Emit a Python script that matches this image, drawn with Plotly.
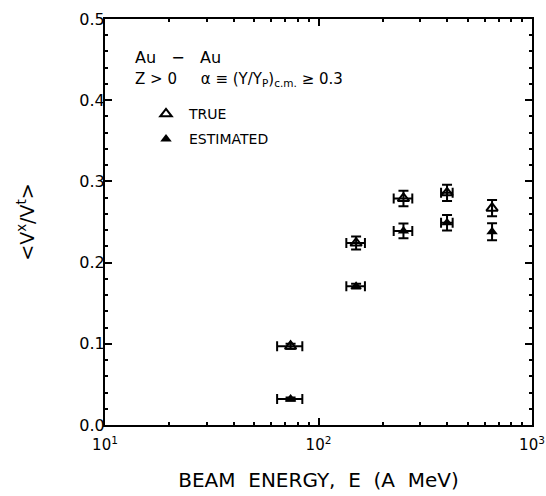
import plotly.graph_objects as go

# Data
energy = [74, 150, 250, 400, 650]
energy_err = [10, 15, 25, 25, 0]
true_vals = [0.097, 0.224, 0.279, 0.286, 0.267]
true_err = [0.003, 0.008, 0.0095, 0.010, 0.010]
est_vals = [0.032, 0.171, 0.239, 0.249, 0.238]
est_err = [0.002, 0.003, 0.009, 0.0096, 0.0105]

xtick_vals = [10, 100, 1000]
xtick_text = ["10<sup>1</sup>", "10<sup>2</sup>", "10<sup>3</sup>"]
ytick_vals = [0.0, 0.1, 0.2, 0.3, 0.4, 0.5]
ytick_text = ["0.0", "0.1", "0.2", "0.3", "0.4", "0.5"]
x_minor = [v * d for d in (10, 100) for v in range(2, 10)]

FONT = "DejaVu Sans"

fig = go.Figure()
fig.add_trace(go.Scatter(
    x=energy, y=true_vals, mode="markers", name="TRUE", legendgroup="a",
    marker=dict(symbol="triangle-up-open", size=10, color="black", line=dict(width=2, color="black")),
    error_y=dict(type="data", array=true_err, color="black", thickness=2, width=5),
    error_x=dict(type="data", array=energy_err, color="black", thickness=2, width=5),
))
fig.add_trace(go.Scatter(
    x=energy, y=est_vals, mode="markers", name="ESTIMATED", legendgroup="b",
    marker=dict(symbol="triangle-up", size=10, color="black"),
    error_y=dict(type="data", array=est_err, color="black", thickness=2, width=5),
    error_x=dict(type="data", array=energy_err, color="black", thickness=2, width=5),
))

fig.add_annotation(text="Au   −   Au", x=0.065, y=0.906, xref="paper", yref="paper",
                   xanchor="left", yanchor="middle", showarrow=False,
                   font=dict(family=FONT, size=16, color="black"))
fig.add_annotation(text="Z > 0     α ≡ (Y/Y<sub>P</sub>)<sub>c.m.</sub> ≥ 0.3", x=0.065, y=0.85,
                   xref="paper", yref="paper", xanchor="left", yanchor="middle", showarrow=False,
                   font=dict(family=FONT, size=15, color="black"))

fig.update_layout(
    width=546, height=496,
    margin=dict(l=105, r=14, t=19, b=71),
    paper_bgcolor="white", plot_bgcolor="white",
    font=dict(family=FONT, size=14, color="black"),
    showlegend=True,
    legend=dict(x=0.089, y=0.805, xanchor="left", yanchor="top", bgcolor="rgba(0,0,0,0)",
                font=dict(family=FONT, size=14), tracegroupgap=4, itemwidth=36),
    xaxis=dict(type="log", range=[1, 3], tickvals=xtick_vals, ticktext=xtick_text,
               ticks="inside", ticklen=7, tickwidth=1.5, tickcolor="black",
               showline=True, linecolor="black", linewidth=2, mirror="ticks", showgrid=False,
               minor=dict(tickvals=x_minor, ticks="inside", ticklen=3, tickcolor="black", showgrid=False),
               ticklabelstandoff=5, automargin=False,
               title=dict(text="BEAM  ENERGY,  E  (A  MeV)", font=dict(family=FONT, size=20), standoff=20),
               tickfont=dict(family=FONT, size=15)),
    yaxis=dict(range=[0, 0.5], tickvals=ytick_vals, ticktext=ytick_text,
               ticks="inside", ticklen=7, tickwidth=1.5, tickcolor="black",
               showline=True, linecolor="black", linewidth=2, mirror="ticks", showgrid=False,
               zeroline=False,
               minor=dict(dtick=0.02, ticks="inside", ticklen=3, tickcolor="black", showgrid=False),
               ticklabelstandoff=-5, automargin=False,
               title=dict(text="&lt;V<sup>x</sup>/V<sup>t</sup>&gt;", font=dict(family=FONT, size=19), standoff=40),
               tickfont=dict(family=FONT, size=16)),
)

fig.write_html("out.html", config={"displayModeBar": False},
               post_script="document.body.style.margin='0';document.body.style.overflow='hidden';")
